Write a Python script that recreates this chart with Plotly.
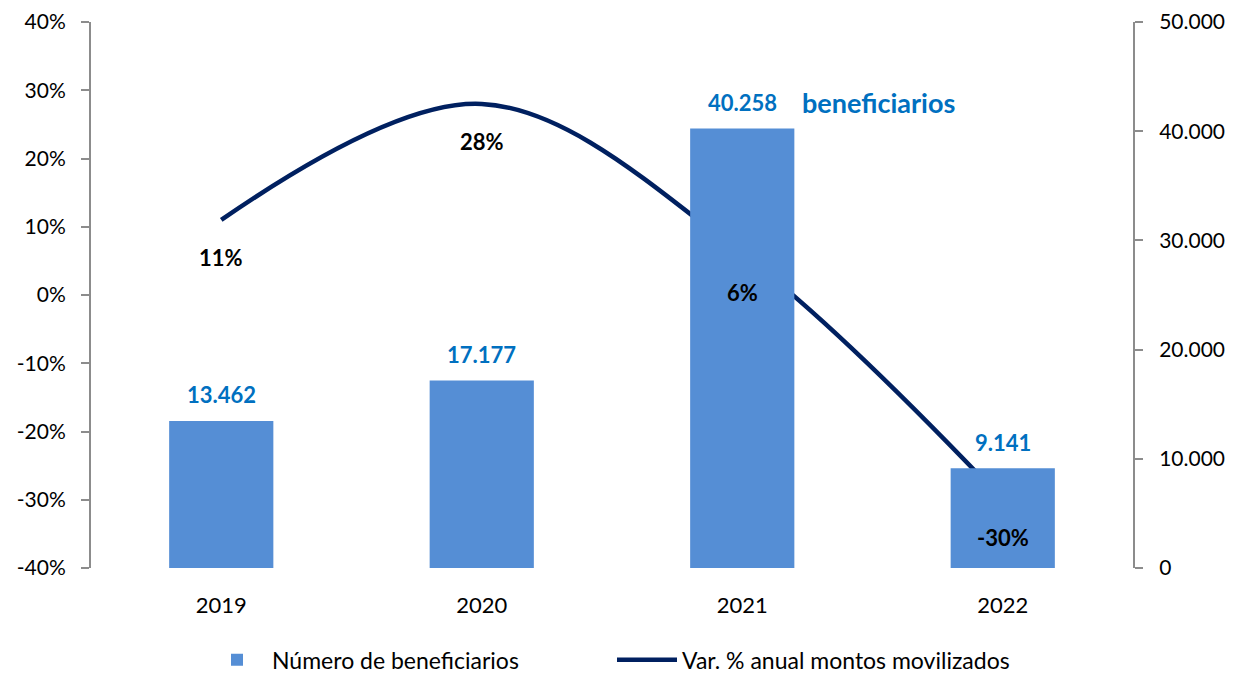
import plotly.graph_objects as go

years = ["2019", "2020", "2021", "2022"]
beneficiarios = [13462, 17177, 40258, 9141]
beneficiarios_labels = ["13.462", "17.177", "40.258", "9.141"]
var_montos = [0.11, 0.28, 0.06, -0.30]
var_labels = ["11%", "28%", "6%", "-30%"]

left_ticks = [-0.4, -0.3, -0.2, -0.1, 0, 0.1, 0.2, 0.3, 0.4]
left_ticktext = ["-40%", "-30%", "-20%", "-10%", "0%", "10%", "20%", "30%", "40%"]
right_ticks = [0, 10000, 20000, 30000, 40000, 50000]
right_ticktext = ["0", "10.000", "20.000", "30.000", "40.000", "50.000"]

FONT = "Lato, 'Liberation Sans', sans-serif"
BAR_COLOR = "#558ED5"
LINE_COLOR = "#002060"
LABEL_BLUE = "#0070C0"
AXIS_GREY = "#8c8c8c"

fig = go.Figure()

fig.add_trace(go.Bar(
    x=years, y=beneficiarios, name="Número de beneficiarios",
    marker=dict(color=BAR_COLOR, line=dict(width=0)),
    width=0.40, yaxis="y2",
))

fig.add_trace(go.Scatter(
    x=years, y=var_montos, name="Var. % anual montos movilizados",
    mode="lines", line=dict(color=LINE_COLOR, width=4.5, shape="spline", smoothing=1.0),
    yaxis="y", cliponaxis=False,
))

# bar value labels
for i, (v, t) in enumerate(zip(beneficiarios, beneficiarios_labels)):
    fig.add_annotation(
        x=i, y=v, xref="x", yref="y2", text="<b>%s</b>" % t, showarrow=False,
        xanchor="center", yanchor="middle", yshift=26,
        font=dict(color=LABEL_BLUE, size=22, family=FONT),
    )

# line value labels
for i, (v, t) in enumerate(zip(var_montos, var_labels)):
    fig.add_annotation(
        x=i, y=v, xref="x", yref="y", text="<b>%s</b>" % t, showarrow=False,
        xanchor="center", yanchor="middle", yshift=-38,
        font=dict(color="#000000", size=22, family=FONT),
    )

fig.add_annotation(
    x=2, y=beneficiarios[2], xref="x", yref="y2",
    text="<b>beneficiarios</b>", showarrow=False,
    xanchor="left", yanchor="middle", xshift=58, yshift=26,
    font=dict(color=LABEL_BLUE, size=27, family=FONT),
)

fig.update_layout(
    width=1220, height=665,
    margin=dict(l=83, r=95, t=14, b=105, autoexpand=False),
    paper_bgcolor="white", plot_bgcolor="white",
    font=dict(family=FONT, size=21, color="#000000"),
    showlegend=True,
    legend=dict(orientation="h", x=0.5, xanchor="center", y=-0.168, yanchor="middle",
                font=dict(size=23, family=FONT), itemwidth=60, traceorder="normal",
                entrywidth=335, entrywidthmode="pixels",
                bgcolor="rgba(0,0,0,0)"),
    xaxis=dict(type="category", range=[-0.5, 3.5], showline=False, showgrid=False,
               ticks="outside", ticklen=18, tickcolor="rgba(0,0,0,0)",
               tickfont=dict(size=22), zeroline=False),
    yaxis=dict(range=[-0.4, 0.4], tickvals=left_ticks, ticktext=left_ticktext,
               showgrid=False, zeroline=False, showline=True, linecolor=AXIS_GREY,
               linewidth=2, ticks="outside", ticklen=8, tickcolor=AXIS_GREY, tickwidth=2,
               tickfont=dict(size=21), ticklabelstandoff=11, ticklabeloverflow="allow"),
    yaxis2=dict(range=[0, 50000], tickvals=right_ticks, ticktext=right_ticktext,
                overlaying="y", side="right", showgrid=False, zeroline=False,
                showline=True, linecolor=AXIS_GREY, linewidth=2, ticks="outside",
                ticklen=8, tickcolor=AXIS_GREY, tickwidth=2, tickfont=dict(size=21),
                ticklabelstandoff=12, ticklabeloverflow="allow"),
)

fig.write_html("out.html")
